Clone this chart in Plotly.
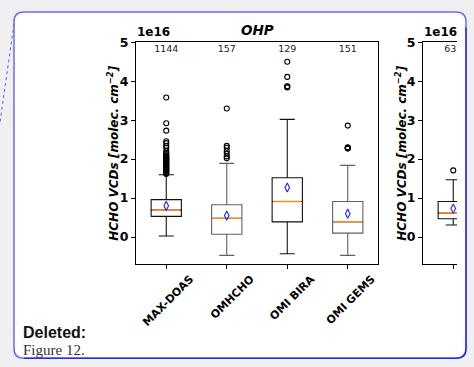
import plotly.graph_objects as go

W, H = 474, 367

# ---------------- data (values in units of 1e16 molec. cm^-2) ----------------
categories = ["MAX-DOAS", "OMHCHO", "OMI BIRA", "OMI GEMS"]
counts = ["1144", "157", "129", "151"]
q1 = [0.53, 0.07, 0.39, 0.10]
medians = [0.69, 0.48, 0.91, 0.39]
q3 = [0.96, 0.83, 1.52, 0.91]
lower_whisker = [0.025, -0.47, -0.43, -0.47]
upper_whisker = [1.60, 1.89, 3.02, 1.84]
means = [0.80, 0.55, 1.27, 0.60]
outliers = [
    [1.62, 1.64, 1.66, 1.68, 1.70, 1.72, 1.74, 1.76, 1.78, 1.80, 1.82, 1.84,
     1.86, 1.88, 1.90, 1.92, 1.94, 1.96, 1.98, 2.00, 2.02, 2.04, 2.06, 2.08,
     2.10, 2.13, 2.16, 2.21, 2.29, 2.34, 2.41, 2.46, 2.73, 2.92, 3.58],
    [2.02, 2.07, 2.14, 2.21, 2.29, 2.34, 3.30],
    [3.84, 3.86, 3.87, 4.11, 4.50],
    [2.27, 2.28, 2.29, 2.30, 2.86],
]

categories_2 = ["MAX-DOAS"]
counts_2 = ["633"]
q1_2 = [0.47]
medians_2 = [0.62]
q3_2 = [0.91]
lower_whisker_2 = [0.31]
upper_whisker_2 = [1.47]
means_2 = [0.73]
outliers_2 = [[1.71]]

y_ticks = [0, 1, 2, 3, 4, 5]

# ---------------- style ----------------
FONT = "DejaVu Sans"
box_colors = ["#111111", "#606060", "#111111", "#606060"]
MEDIAN_COLOR = "#ff8a25"
MEAN_COLOR = "#1f1fff"
COUNT_Y = 4.82
BOX_W = 0.5


def px(x):
    return x / W


def py(y):
    return 1 - y / H


fig = go.Figure()


def add_panel(xa, ya, cats, cnts, q1s, meds, q3s, lows, ups, mns, outs, colors):
    pos = list(range(1, len(cats) + 1))
    for i, p in enumerate(pos):
        fig.add_trace(go.Box(
            x=[p], q1=[q1s[i]], median=[meds[i]], q3=[q3s[i]],
            lowerfence=[lows[i]], upperfence=[ups[i]],
            width=BOX_W, whiskerwidth=0.5, boxpoints=False,
            line=dict(color=colors[i], width=1.1),
            fillcolor="rgba(0,0,0,0)", showlegend=False,
            xaxis=xa, yaxis=ya, hoverinfo="skip"))
        # median line
        fig.add_trace(go.Scatter(
            x=[p - BOX_W / 2 + 0.02, p + BOX_W / 2 - 0.02], y=[meds[i], meds[i]],
            mode="lines", line=dict(color=MEDIAN_COLOR, width=1.5),
            showlegend=False, xaxis=xa, yaxis=ya, hoverinfo="skip"))
        # outliers
        fig.add_trace(go.Scatter(
            x=[p] * len(outs[i]), y=outs[i], mode="markers",
            marker=dict(symbol="circle-open", size=5, color="black",
                        line=dict(width=1.1, color="black")),
            showlegend=False, xaxis=xa, yaxis=ya, hoverinfo="skip"))
    # means
    fig.add_trace(go.Scatter(
        x=pos, y=mns, mode="markers",
        marker=dict(symbol="diamond-tall-open", size=6.5, color=MEAN_COLOR,
                    line=dict(width=1.1, color=MEAN_COLOR)),
        showlegend=False, xaxis=xa, yaxis=ya, hoverinfo="skip"))
    # counts
    fig.add_trace(go.Scatter(
        x=pos, y=[COUNT_Y] * len(pos), mode="text", text=cnts,
        textfont=dict(family=FONT, size=9.5, color="#222222"),
        cliponaxis=True, showlegend=False, xaxis=xa, yaxis=ya, hoverinfo="skip"))


add_panel("x", "y", categories, counts, q1, medians, q3, lower_whisker,
          upper_whisker, means, outliers, box_colors)
add_panel("x2", "y2", categories_2, counts_2, q1_2, medians_2, q3_2,
          lower_whisker_2, upper_whisker_2, means_2, outliers_2, ["#111111"])

axis_common = dict(showgrid=False, zeroline=False, showline=True,
                   linecolor="black", linewidth=1, ticks="outside",
                   ticklen=4, tickwidth=1, tickcolor="black")

y_dom = [py(262), py(35)]
XTICK_FONT = dict(family=FONT, size=11, color="black", weight="bold")
YTICK_FONT = dict(family=FONT, size=12.5, color="black", weight="bold")

fig.update_layout(
    width=W, height=H,
    margin=dict(l=0, r=0, t=0, b=0),
    paper_bgcolor="#f0f0f0",
    plot_bgcolor="rgba(0,0,0,0)",
    showlegend=False,
    xaxis=dict(domain=[px(136), px(378)], range=[0.5, 4.5], anchor="y",
               tickvals=list(range(1, len(categories) + 1)), ticktext=categories,
               tickangle=-45, mirror=True, ticklabelshift=24, ticklabelstandoff=-1,
               tickfont=XTICK_FONT, **axis_common),
    yaxis=dict(domain=y_dom, range=[-0.70, 5.0], anchor="x",
               tickvals=y_ticks, ticktext=[str(t) for t in y_ticks], mirror=True,
               tickfont=YTICK_FONT, **axis_common),
    xaxis2=dict(domain=[px(423), px(457)], range=[0.5, 0.5 + 34 / 60.5], anchor="y2",
                tickvals=[1], ticktext=categories_2, tickangle=-45, mirror=True,
                ticklabelshift=24, ticklabelstandoff=-1, tickfont=XTICK_FONT,
                **axis_common),
    yaxis2=dict(domain=y_dom, range=[-0.70, 5.0], anchor="x2",
                tickvals=y_ticks, ticktext=[str(t) for t in y_ticks], mirror=False,
                tickfont=YTICK_FONT, **axis_common),
)


def rounded_path(x0, y0, x1, y1, r):
    X = lambda v: f"{px(v):.5f}"
    Y = lambda v: f"{py(v):.5f}"
    return (f"M {X(x0 + r)},{Y(y0)} L {X(x1 - r)},{Y(y0)} Q {X(x1)},{Y(y0)} {X(x1)},{Y(y0 + r)} "
            f"L {X(x1)},{Y(y1 - r)} Q {X(x1)},{Y(y1)} {X(x1 - r)},{Y(y1)} "
            f"L {X(x0 + r)},{Y(y1)} Q {X(x0)},{Y(y1)} {X(x0)},{Y(y1 - r)} "
            f"L {X(x0)},{Y(y0 + r)} Q {X(x0)},{Y(y0)} {X(x0 + r)},{Y(y0)} Z")


shapes = [
    # white frame background
    dict(type="path", path=rounded_path(14, 4, 466, 358, 10), xref="paper", yref="paper",
         fillcolor="white", line=dict(width=0), layer="below"),
    # clip cover for the cut-off second panel
    dict(type="rect", xref="paper", yref="paper", x0=px(457.5), x1=px(466), y0=py(345),
         y1=py(12), fillcolor="white", line=dict(width=0), layer="above"),
    dict(type="rect", xref="paper", yref="paper", x0=px(466), x1=1, y0=py(367),
         y1=py(0), fillcolor="#f0f0f0", line=dict(width=0), layer="above"),
    # frame border
    dict(type="path", path=rounded_path(14, 4, 466, 358, 10), xref="paper", yref="paper",
         fillcolor="rgba(0,0,0,0)", line=dict(width=1.5, color="#6a6aff"), layer="above"),
    dict(type="path", xref="paper", yref="paper", layer="above",
         path=f"M {px(466)},{py(20)} L {px(466)},{py(348)} Q {px(466)},{py(358)} {px(456)},{py(358)} L {px(24)},{py(358)}",
         line=dict(width=1.5, color="#2a2aff")),
    # dotted comment connector
    dict(type="line", xref="paper", yref="paper", x0=px(14), y0=py(16), x1=px(0), y1=py(117),
         line=dict(width=1, color="#5a5aff", dash="dot"), layer="above"),
]
fig.update_layout(shapes=shapes)

YTITLE_FONT = dict(family=FONT, size=12, color="black", weight="bold", style="italic")
annotations = [
    dict(text="OHP", x=px(257), y=py(32), xanchor="center", yanchor="bottom",
         font=dict(family=FONT, size=13.5, color="black", weight="bold", style="italic")),
    dict(text="1e16", x=px(136), y=py(33), xanchor="left", yanchor="bottom",
         font=dict(family=FONT, size=12, color="black", weight="bold")),
    dict(text="1e16", x=px(423), y=py(33), xanchor="left", yanchor="bottom",
         font=dict(family=FONT, size=12, color="black", weight="bold")),
    dict(text="HCHO VCDs [molec. cm<sup>−2</sup>]", x=px(113), y=py(149), textangle=-90,
         xanchor="center", yanchor="middle", font=YTITLE_FONT),
    dict(text="HCHO VCDs [molec. cm<sup>−2</sup>]", x=px(401), y=py(149), textangle=-90,
         xanchor="center", yanchor="middle", font=YTITLE_FONT),
    dict(text="Deleted:", x=px(22), y=py(322), xanchor="left", yanchor="top",
         font=dict(family="Liberation Sans", size=16, color="#111111", weight="bold")),
    dict(text="Figure 12.", x=px(22), y=py(340), xanchor="left", yanchor="top",
         font=dict(family="Liberation Serif", size=15, color="#333333")),
]
for a in annotations:
    a.update(xref="paper", yref="paper", showarrow=False, borderpad=0)
fig.update_layout(annotations=annotations)

fig.write_html("out.html")
